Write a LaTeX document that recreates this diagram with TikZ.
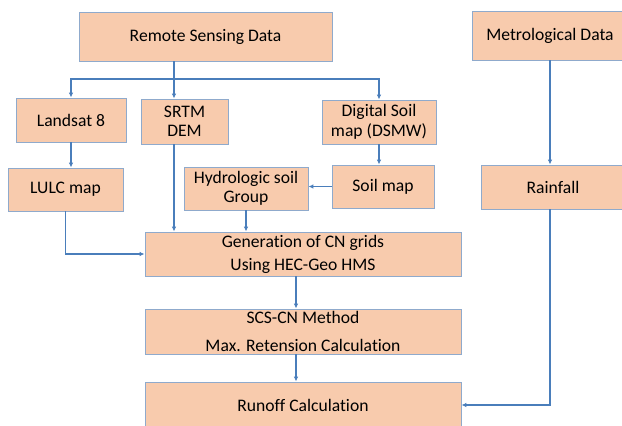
\documentclass[tikz,border=0pt]{standalone}
\usepackage{fontspec}
\setmainfont{Carlito}[Ligatures=NoCommon]
\usetikzlibrary{arrows.meta}
\definecolor{peach}{HTML}{F8CBAD}
\definecolor{edgeblue}{HTML}{8FAACC}
\definecolor{linkblue}{HTML}{4A7EBB}
\begin{document}
\begin{tikzpicture}[x=1pt, y=1pt,
	box/.style={rectangle, fill=peach, draw=edgeblue, line width=0.8pt, inner sep=0pt, align=center, font=\fontsize{17.6}{19.5}\selectfont},
	link/.style={-{Latex[length=5pt, width=4.5pt]}, draw=linkblue, line width=1.2pt}]
	    \useasboundingbox (0,0) rectangle (622,-426);
	    \begin{scope}
	    \clip (0,0) rectangle (622,-426);
	    \node[box, minimum width=253, minimum height=49] (rsd) at (205.5, -36.5) {Remote Sensing Data};
	    \node[box, minimum width=156, minimum height=49] (met) at (550, -35.5) {Metrological Data};
	    \node[box, minimum width=110, minimum height=44] (landsat) at (71, -120) {Landsat 8};
	    \node[box, minimum width=87, minimum height=45] (srtm) at (184.5, -121.5) {SRTM\\DEM};
	    \node[box, minimum width=114, minimum height=44] (dsm) at (379, -122) {Digital Soil\\map (DSMW)};
	    \node[box, minimum width=115, minimum height=43] (lulc) at (65.5, -189.5) {LULC map};
	    \node[box, minimum width=124, minimum height=43] (hsg) at (246, -188.5) {Hydrologic soil\\Group};
	    \node[box, minimum width=102, minimum height=43] (soil) at (383, -186.5) {Soil map};
	    \node[box, minimum width=144, minimum height=44] (rain) at (553, -187) {Rainfall};
	    \node[box, minimum width=316, minimum height=44, font=\fontsize{17.6}{23}\selectfont] (gen) at (303, -254) {Generation of CN grids\\Using HEC-Geo HMS};
	    \node[box, minimum width=316, minimum height=45, font=\fontsize{17.6}{28}\selectfont] (scs) at (303, -331.5) {SCS-CN Method\\Max. Retension Calculation};
	    \node[box, minimum width=316, minimum height=46] (run) at (303, -405) {Runoff Calculation};
	    \coordinate (fork) at (174, -79);
	    \coordinate (spine) at (296, 0);
	    \draw[link] (fork |- rsd.south) -- (fork |- srtm.north);
	    \draw[link] (fork) -| (landsat.north);
	    \draw[link] (fork) -| (dsm.north);
	    \draw[link] (landsat.south) -- (landsat.south |- lulc.north);
	    \draw[link] (dsm.south) -- (dsm.south |- soil.north);
	    \draw[link] (soil.west) -- (soil.west -| hsg.east);
	    \draw[link] (lulc.south) |- (gen.west);
	    \draw[link] (fork |- srtm.south) -- (fork |- gen.north);
	    \draw[link] (hsg.south) -- (hsg.south |- gen.north);
	    \draw[link] (spine |- gen.south) -- (spine |- scs.north);
	    \draw[link] (spine |- scs.south) -- (spine |- run.north);
	    \draw[link] (met.south) -- (met.south |- rain.north);
	    \draw[link] (met.south |- rain.south) |- (run.east);
	    \end{scope}
\end{tikzpicture}
\end{document}
